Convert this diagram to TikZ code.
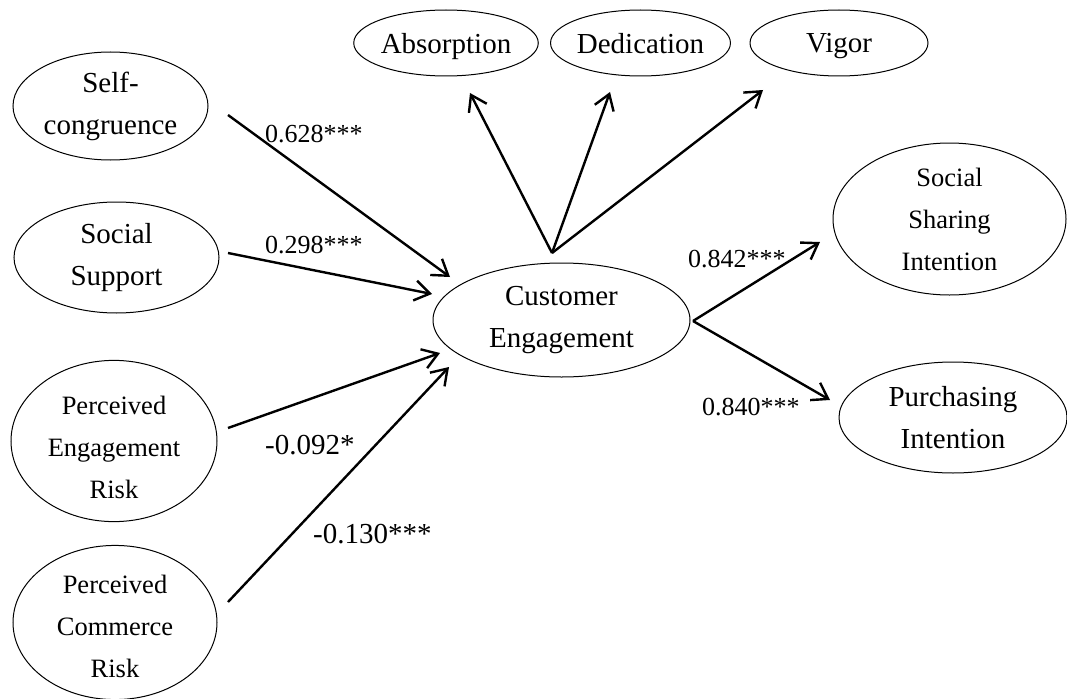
\documentclass[tikz,border=0pt]{standalone}
\usepackage{fontspec}
\setmainfont{Liberation Serif}
\usetikzlibrary{arrows.meta,shapes.geometric}

\begin{document}
\begin{tikzpicture}[x=1pt,y=-1pt,
  latent/.style={draw, ellipse, line width=1pt, inner sep=0pt, align=center,
    font=\fontsize{29}{42}\selectfont},
  smalltext/.style={font=\fontsize{26.5}{42}\selectfont},
  nodepth/.style={text depth=0pt},
  effect/.style={line width=2.4pt, -{Straight Barb[length=15pt,width=20pt]}},
  coef/.style={inner sep=0pt, anchor=base west, font=\fontsize{26}{30}\selectfont}]

\useasboundingbox (0,0) rectangle (1067,698);

% exogenous constructs
\node[latent, minimum width=195, minimum height=108] (sc) at (110.5,106) {Self-\\congruence};
\node[latent, minimum width=205, minimum height=111] (ss) at (116.5,257.5) {Social\\Support};
\node[latent, smalltext, nodepth, text height=114pt, minimum width=206, minimum height=152] (per) at (114,441) {Perceived\\Engagement\\Risk};
\node[latent, smalltext, nodepth, text height=109pt, minimum width=204, minimum height=149] (pcr) at (115,622.5) {Perceived\\Commerce\\Risk};

% dimensions of engagement
\node[latent, nodepth, minimum width=178, minimum height=66] (ab) at (446,43) {Absorption};
\node[latent, nodepth, minimum width=177, minimum height=66] (de) at (640.5,43) {Dedication};
\node[latent, nodepth, minimum width=178, minimum height=66] (vi) at (839,43) {Vigor};

% mediator and outcomes
\node[latent, minimum width=257, minimum height=114] (ce) at (561.5,320) {Customer\\Engagement};
\node[latent, smalltext, minimum width=233, minimum height=152] (ssi) at (949.5,219) {Social\\Sharing\\Intention};
\node[latent, minimum width=228, minimum height=111] (pi) at (953,417.5) {Purchasing\\Intention};

\coordinate (v1) at (228,115);
\coordinate (v2) at (228,253);
\coordinate (v3) at (228,428);
\coordinate (v4) at (228,602);
\coordinate (w1) at (450,277);
\coordinate (w2) at (432,294);
\coordinate (w3) at (440,353);
\coordinate (w4) at (449,367);
\coordinate (top) at (552,253);
\coordinate (u1) at (470,93);
\coordinate (u2) at (610,92);
\coordinate (u3) at (763,90);
\coordinate (right) at (693,321);
\coordinate (r1) at (820,242);
\coordinate (r2) at (830,400);

\draw[effect] (v1) -- (w1);
\draw[effect] (v2) -- (w2);
\draw[effect] (v3) -- (w3);
\draw[effect] (v4) -- (w4);
\draw[effect] (top) -- (u1);
\draw[effect] (top) -- (u2);
\draw[effect] (top) -- (u3);
\draw[effect] (right) -- (r1);
\draw[effect] (right) -- (r2);

% path coefficients
\node[coef] (c1) at (265,142) {0.628***};
\node[coef] (c2) at (265,253) {0.298***};
\node[coef, font=\fontsize{29}{32}\selectfont] (c3) at (265,454) {-0.092*};
\node[coef, font=\fontsize{29}{32}\selectfont] (c4) at (313,543) {-0.130***};
\node[coef] (c5) at (688,267) {0.842***};
\node[coef] (c6) at (702,415) {0.840***};
\end{tikzpicture}
\end{document}
